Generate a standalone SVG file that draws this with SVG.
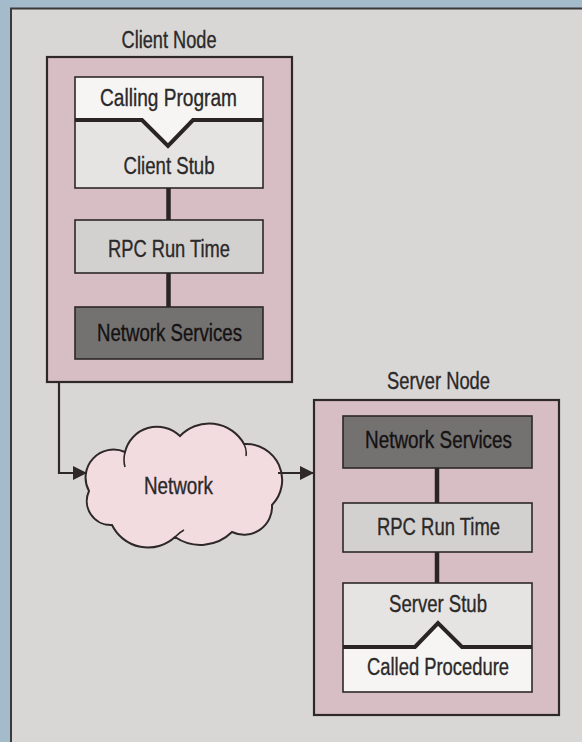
<svg xmlns="http://www.w3.org/2000/svg" width="582" height="742" viewBox="0 0 582 742">
<defs>
<style>
.t{font-family:"Liberation Sans",Arial,sans-serif;font-size:23px;fill:#2b2929;stroke:#2b2929;stroke-width:0.35;text-anchor:middle}
.td{fill:#141212;stroke:#141212}
.node{fill:#d7bec4;stroke:#2e2828;stroke-width:2.2}
.box{stroke:#2e2828;stroke-width:1.6}
.w{fill:#f6f5f3}
.lg{fill:#e6e4e2}
.g{fill:#d3d1cf}
.dk{fill:#747171}
.div{fill:none;stroke:#2a2424;stroke-width:4;stroke-linejoin:miter}
.link{stroke:#2a2424;stroke-width:4.5;fill:none}
.arr{stroke:#2e2828;stroke-width:2.2;fill:none}
</style>
<marker id="ah" viewBox="0 0 14 14" refX="14" refY="7" markerWidth="14" markerHeight="14" markerUnits="userSpaceOnUse" orient="auto">
<path d="M0,0 L14,7 L0,14 Z" fill="#2e2828"/>
</marker>
</defs>
<rect x="0" y="0" width="582" height="742" fill="#a3bbca"/>
<rect x="11" y="8.5" width="575" height="740" fill="#d9d7d5" stroke="#3a3838" stroke-width="2"/>

<g id="client-node">
<rect class="node" x="47" y="57" width="245" height="325"/>
<text class="t" x="169" y="48" textLength="95" lengthAdjust="spacingAndGlyphs">Client Node</text>
</g>

<g id="calling-program">
<path class="w" d="M75,77 H263 V120 H193 L168,146 L142,120 H75 Z"/>
<text class="t" x="168.5" y="106" textLength="137" lengthAdjust="spacingAndGlyphs">Calling Program</text>
</g>

<g id="client-stub">
<path class="lg" d="M75,120 H142 L168,146 L193,120 H263 V188 H75 Z"/>
<rect x="75" y="77" width="188" height="111" fill="none" class="box"/>
<path class="div" d="M75,120 H142 L168,146 L193,120 H263"/>
<text class="t" x="169" y="174" textLength="91" lengthAdjust="spacingAndGlyphs">Client Stub</text>
</g>

<g id="client-rpc">
<rect class="box g" x="75" y="220" width="188" height="53"/>
<text class="t" x="169" y="257" textLength="122" lengthAdjust="spacingAndGlyphs">RPC Run Time</text>
</g>

<g id="client-net">
<rect class="box dk" x="75" y="307" width="188" height="52"/>
<text class="t td" x="169.5" y="341" textLength="145" lengthAdjust="spacingAndGlyphs">Network Services</text>
</g>

<g id="network">
<path d="M89,491 A28,28 0 0 1 125,452 A33,33 0 0 1 180,436 A40,40 0 0 1 244,444 A36,36 0 0 1 272,505 A28,28 0 0 1 232,532 A45,45 0 0 1 175,537 A40,40 0 0 1 112,525 A24,24 0 0 1 89,491 Z" fill="#f3dce0" stroke="#2e2828" stroke-width="2"/>
<path d="M125,452 Q123,460 125,467 M244,444 Q247,450 246,456 M175,537 Q180,532 184,530" fill="none" stroke="#2e2828" stroke-width="1.6"/>
<text class="t" x="178.5" y="494" textLength="69" lengthAdjust="spacingAndGlyphs">Network</text>
</g>

<g id="server-node">
<rect class="node" x="314" y="400" width="245" height="315"/>
<text class="t" x="438.5" y="389" textLength="103" lengthAdjust="spacingAndGlyphs">Server Node</text>
</g>

<g id="server-net">
<rect class="box dk" x="343" y="416" width="189" height="52"/>
<text class="t td" x="438.5" y="448" textLength="147" lengthAdjust="spacingAndGlyphs">Network Services</text>
</g>

<g id="server-rpc">
<rect class="box g" x="343" y="503" width="189" height="49"/>
<text class="t" x="438.5" y="535" textLength="123" lengthAdjust="spacingAndGlyphs">RPC Run Time</text>
</g>

<g id="server-stub">
<path class="lg" d="M343,583 H532 V647 H462 L438,623 L415,647 H343 Z"/>
<text class="t" x="438" y="612" textLength="98" lengthAdjust="spacingAndGlyphs">Server Stub</text>
</g>

<g id="called-procedure">
<path class="w" d="M343,647 H415 L438,623 L462,647 H532 V692 H343 Z"/>
<rect x="343" y="583" width="189" height="109" fill="none" class="box"/>
<path class="div" d="M343,647 H415 L438,623 L462,647 H532"/>
<text class="t" x="438" y="675" textLength="142" lengthAdjust="spacingAndGlyphs">Called Procedure</text>
</g>

<g id="connectors">
<line class="link" x1="168.5" y1="188" x2="168.5" y2="220"/>
<line class="link" x1="168.5" y1="273" x2="168.5" y2="307"/>
<line class="link" x1="437" y1="468" x2="437" y2="503"/>
<line class="link" x1="437" y1="552" x2="437" y2="583"/>
<path class="arr" d="M59,383 V473 H87" marker-end="url(#ah)"/>
<path class="arr" d="M278,473 H314" marker-end="url(#ah)"/>
</g>
</svg>
